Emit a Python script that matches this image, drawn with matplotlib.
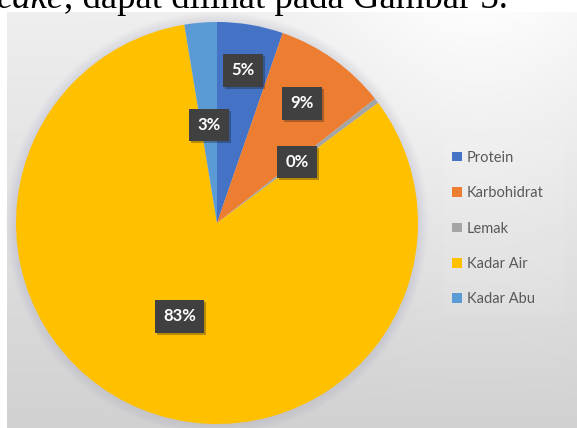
import numpy as np
import matplotlib
matplotlib.use("Agg")
import matplotlib.pyplot as plt
from matplotlib.patches import Circle
from matplotlib import patheffects

# composition shares (percent)
categories = ["Protein", "Karbohidrat", "Lemak", "Kadar Air", "Kadar Abu"]
values = [5.3, 9.1, 0.4, 82.6, 2.6]
colors = ["#4472C4", "#ED7D31", "#A5A5A5", "#FFC000", "#5B9BD5"]
label_radius = [0.77, 0.73, 0.50, 0.50, 0.49]

W, H = 577, 428
fig = plt.figure(figsize=(W / 100, H / 100), dpi=100)
ax = fig.add_axes([0, 0, 1, 1])
ax.set_xlim(0, W)
ax.set_ylim(0, H)
ax.set_aspect("equal")
ax.axis("off")

# chart area background: soft grey gradient, lighter towards the top right
x0, y0 = 7, 12
xs = np.linspace(x0, W, 300)
ys = np.linspace(y0, H, 220)
X, Y = np.meshgrid(xs, ys)
t = (Y - y0) / (H - y0)
v = 0.935 - 0.115 * t + 0.055 * np.exp(-((X - 480) / 160) ** 2) * (1 - t)
bg = np.dstack([v, v, v * 1.005])
ax.imshow(np.clip(bg, 0, 1), extent=(x0, W, 0, H - y0), origin="upper",
          aspect="auto", zorder=0)

# legend panel
ax.add_patch(plt.Rectangle((443, H - 315), 122, 175, fc="white", alpha=0.07,
                           ec="none", zorder=1))

cx, cy, R = 217, H - 223, 201

# soft glow around the pie
for k in range(10, 0, -1):
    ax.add_patch(Circle((cx, cy), R + k, fc="#a8a8c4", ec="none",
                        alpha=0.028, zorder=1))

wedges, _ = ax.pie(values, colors=colors, startangle=90, counterclock=False,
                   center=(cx, cy), radius=R, frame=True,
                   wedgeprops=dict(linewidth=0, zorder=2))
ax.set_xlim(0, W)
ax.set_ylim(0, H)
ax.axis("off")

# percentage labels in dark boxes
total = sum(values)
start = 90.0
for val, r in zip(values, label_radius):
    span = 360.0 * val / total
    mid = np.deg2rad(start - span / 2)
    start -= span
    lx = cx + r * R * np.cos(mid)
    ly = cy + r * R * np.sin(mid)
    txt = ax.text(lx, ly, f"{round(val)}%", ha="center", va="center",
                  color="white", fontsize=12, fontweight="bold",
                  family=["Lato", "DejaVu Sans"], zorder=5,
                  bbox=dict(boxstyle="square,pad=0.5", fc="#404040", ec="none"))
    txt.get_bbox_patch().set_path_effects(
        [patheffects.SimplePatchShadow(offset=(1.5, -1.5), alpha=0.3),
         patheffects.Normal()])

leg = fig.legend(wedges, categories, loc="center left",
                 bbox_to_anchor=(0.761, 0.466), frameon=False,
                 prop=dict(family=["Lato", "DejaVu Sans"], size=10.5),
                 handlelength=0.65, handleheight=0.65, handletextpad=0.35,
                 labelspacing=1.47)
for t_ in leg.get_texts():
    t_.set_color("#595959")

# running text above the figure, cut off at the top
renderer = fig.canvas.get_renderer()
base = 1 - 8.5 / H
t1 = fig.text(-3 / W, base, "cake", fontsize=26.5, style="italic",
              family="Liberation Serif", va="baseline", color="black")
bb = t1.get_window_extent(renderer)
fig.text(bb.x1 / W, base, ", dapat dilihat pada Gambar 3.", fontsize=26.5,
         family="Liberation Serif", va="baseline", color="black")

fig.savefig("out.png", dpi=100)
